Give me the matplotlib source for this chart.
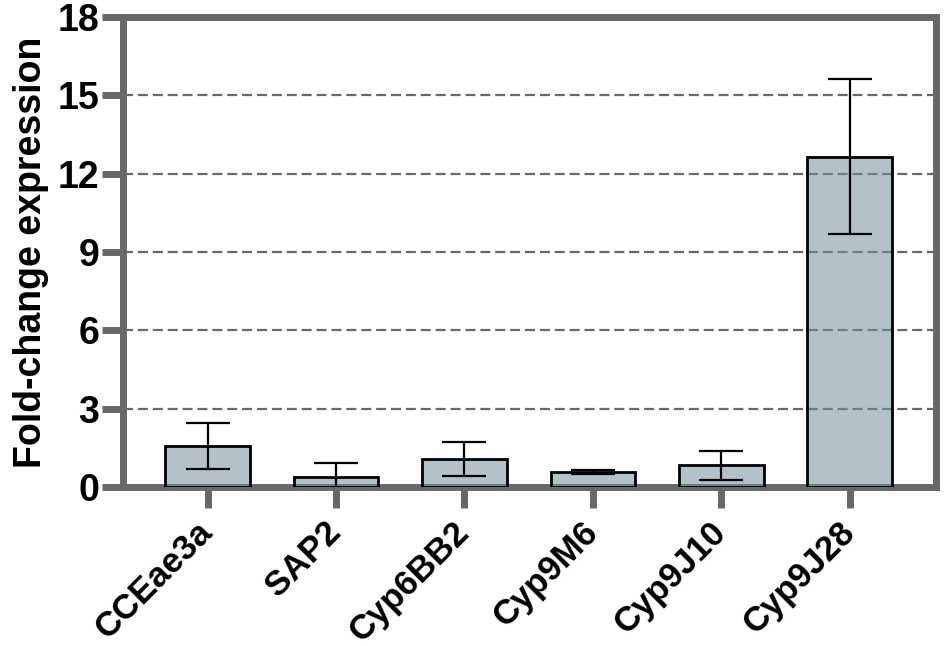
import matplotlib
matplotlib.use("Agg")
import matplotlib.pyplot as plt
import numpy as np

genes = ["CCEae3a", "SAP2", "Cyp6BB2", "Cyp9M6", "Cyp9J10", "Cyp9J28"]
fold_change = [1.58, 0.40, 1.07, 0.57, 0.84, 12.64]
error = [0.88, 0.53, 0.64, 0.07, 0.55, 2.97]
yticks = [0, 3, 6, 9, 12, 15, 18]

plt.rcParams['font.family'] = ['Liberation Sans', 'DejaVu Sans']
plt.rcParams['font.weight'] = 'bold'

frame = '#686868'
fig = plt.figure(figsize=(9.44, 6.46), dpi=100)
ax = fig.add_axes([0.130, 0.246, 0.8615, 0.728])

x = np.arange(len(genes))
ax.bar(x, fold_change, width=0.66, facecolor=(117/255, 142/255, 155/255, 0.55),
       edgecolor='black', linewidth=2, zorder=3)
ax.errorbar(x, fold_change, yerr=error, fmt='none', ecolor='black', elinewidth=1.6,
            capsize=15.5, capthick=1.6, zorder=4)

for v in yticks[1:-1]:
    ax.axhline(v, color=frame, linewidth=1.6, linestyle=(0, (4.5, 2.2)), zorder=1)

ax.set_ylim(0, 18)
ax.set_xlim(-0.66, 5.67)
ax.set_yticks(yticks)
ax.set_yticklabels([str(t) for t in yticks], fontsize=27, fontweight='bold')
ax.set_xticks(x)
ax.set_xticklabels(genes, fontsize=25, fontweight='bold', rotation=45,
                   ha='right', va='center', rotation_mode='anchor')
for s in ax.spines.values():
    s.set_color(frame)
    s.set_linewidth(5)
ax.tick_params(axis='both', color=frame, width=5, length=15)
ax.tick_params(axis='y', pad=2)
ax.tick_params(axis='x', pad=14)
ax.set_ylabel("Fold-change expression", fontsize=27, fontweight='bold', labelpad=6)

fig.savefig("out.png", dpi=100)
